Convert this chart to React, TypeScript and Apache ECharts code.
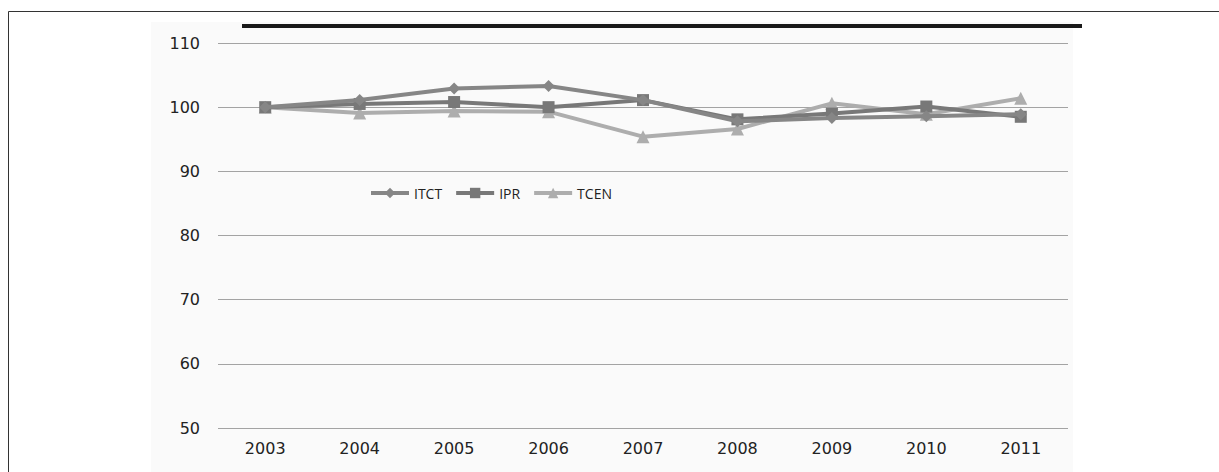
import React, { useEffect, useRef } from "react";
import * as echarts from "echarts";

const years = ["2003", "2004", "2005", "2006", "2007", "2008", "2009", "2010", "2011"];
const itct = [100, 101.1, 102.9, 103.3, 101.1, 97.8, 98.3, 98.6, 98.9];
const ipr = [100, 100.5, 100.8, 100.0, 101.1, 98.1, 99.0, 100.1, 98.5];
const tcen = [100, 99.1, 99.4, 99.3, 95.4, 96.6, 100.6, 98.9, 101.4];

const seriesNames = ["ITCT", "IPR", "TCEN"];
const seriesColors = ["#868686", "#787878", "#adadad"];
const seriesSymbols = ["diamond", "rect", "triangle"];
const seriesSymbolSizes = [12, 12, 13];

export default function App() {
  const ref = useRef<HTMLDivElement>(null);

  useEffect(() => {
    if (!ref.current) return;
    const chart = echarts.init(ref.current, null, { renderer: "svg" });
    const values = [itct, ipr, tcen];
    chart.setOption({
      animation: false,
      backgroundColor: "#ffffff",
      graphic: [
        {
          type: "rect",
          z: -20,
          silent: true,
          shape: { x: 151, y: 22, width: 922, height: 460 },
          style: { fill: "#fafafa" },
        },
        {
          type: "rect",
          z: -10,
          silent: true,
          shape: { x: 8.5, y: 11.5, width: 1300, height: 600 },
          style: { fill: "none", stroke: "#333333", lineWidth: 1 },
        },
        {
          type: "line",
          z: 10,
          silent: true,
          shape: { x1: 242, y1: 26, x2: 1082, y2: 26 },
          style: { stroke: "#1a1a1a", lineWidth: 4 },
        },
      ],
      legend: {
        left: 364,
        top: 181,
        itemWidth: 38,
        itemHeight: 13,
        itemGap: 12,
        lineStyle: { width: 4 },
        textStyle: { fontFamily: "Open Sans", fontSize: 14, color: "#222" },
        data: seriesNames,
      },
      grid: { left: 218, right: 151, top: 43, bottom: 44, containLabel: false },
      xAxis: {
        type: "category",
        data: years,
        boundaryGap: true,
        axisLine: { show: false },
        axisTick: { show: false },
        axisLabel: {
          fontFamily: "DejaVu Sans",
          fontSize: 16,
          color: "#222",
          margin: 12,
        },
      },
      yAxis: {
        type: "value",
        min: 50,
        max: 110,
        interval: 10,
        axisLine: { show: false },
        axisTick: { show: false },
        axisLabel: {
          fontFamily: "DejaVu Sans",
          fontSize: 16,
          color: "#222",
          margin: 18,
        },
        splitLine: { show: true, lineStyle: { color: "#a3a3a3", width: 1 } },
      },
      series: seriesNames.map((name, i) => ({
        name,
        type: "line",
        data: values[i],
        symbol: seriesSymbols[i],
        symbolSize: seriesSymbolSizes[i],
        showAllSymbol: true,
        itemStyle: { color: seriesColors[i] },
        lineStyle: { color: seriesColors[i], width: 4 },
        z: 3 + (2 - i),
      })),
    });
    return () => chart.dispose();
  }, []);

  return (
    <div
      ref={ref}
      style={{ position: "fixed", left: 0, top: 0, width: 1219, height: 472 }}
    />
  );
}
